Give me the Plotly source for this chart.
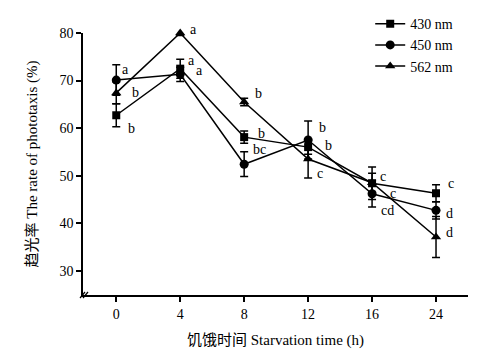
import plotly.graph_objects as go

times = ["0", "4", "8", "12", "16", "24"]
series_names = ["430 nm", "450 nm", "562 nm"]
v430 = [62.7, 72.5, 58.1, 56.0, 48.4, 46.3]
e430 = [2.4, 2.0, 1.3, 1.5, 3.4, 1.8]
v450 = [70.1, 71.3, 52.4, 57.5, 46.2, 42.7]
e450 = [3.2, 1.5, 2.6, 4.0, 2.8, 1.8]
v562 = [67.4, 80.0, 65.5, 53.5, 48.5, 37.1]
e562 = [2.3, 0.5, 0.8, 4.0, 2.0, 4.3]
l430 = ["b", "a", "b", "b", "c", "c"]
l450 = ["a", "a", "bc", "b", "cd", "d"]
l562 = ["b", "a", "b", "c", "c", "d"]
y_ticks = [30, 40, 50, 60, 70, 80]

# pixel offsets of letter labels relative to points (dx right, dy down)
off430 = [(15, 13), (11, -8), (17, -4), (20, -2), (11, -7), (15, -10)]
off450 = [(9, -11), (19, -4), (15, -15), (14, -12), (15, 17), (13, 3)]
off562 = [(19, 0), (13, -4), (14, -8), (12, 14), (21, 11), (13, -4)]

SERIF = "Liberation Serif, Times New Roman, serif"
MIXED = "Liberation Serif, Noto Sans CJK SC, serif"

xpos = list(range(len(times)))

fig = go.Figure()
specs = [
    (series_names[0], v430, e430, "square", 8, l430, off430),
    (series_names[1], v450, e450, "circle", 9, l450, off450),
    (series_names[2], v562, e562, "triangle-up", 9, l562, off562),
]
for name, vals, errs, sym, size, labs, offs in specs:
    fig.add_trace(go.Scatter(
        x=xpos, y=vals, name=name, mode="lines+markers",
        line=dict(color="black", width=1.5),
        marker=dict(symbol=sym, size=size, color="black"),
        error_y=dict(type="data", array=errs, visible=True,
                     color="black", thickness=1.5, width=4),
        cliponaxis=False,
    ))
    for xp, v, lab, (dx, dy) in zip(xpos, vals, labs, offs):
        fig.add_annotation(x=xp, y=v, text=lab, showarrow=False,
                           xshift=dx, yshift=-dy, xanchor="center",
                           yanchor="middle",
                           font=dict(family=SERIF, size=14, color="black"))

# axis break marks
for off in (0, 3):
    fig.add_shape(type="line", xref="paper", yref="paper",
                  xsizemode="pixel", ysizemode="pixel",
                  xanchor=0, yanchor=0,
                  x0=-3 + off, x1=2 + off, y0=-3, y1=3,
                  line=dict(color="black", width=1.2))

# page body has an 8px default margin, so the figure is drawn 8px smaller
fig.update_layout(
    width=479, height=349,
    margin=dict(l=75, r=19, t=25, b=62, autoexpand=False),
    paper_bgcolor="white", plot_bgcolor="white",
    font=dict(family=SERIF, size=14, color="black"),
    showlegend=True,
    legend=dict(x=0.746, y=1.095, xanchor="left", yanchor="top",
                bgcolor="rgba(0,0,0,0)", font=dict(family=SERIF, size=14),
                tracegroupgap=0),
    xaxis=dict(range=[-0.52, 5.5], tickvals=xpos, ticktext=times,
               showline=True, linecolor="black", automargin=False,
               linewidth=1.5, ticks="outside", ticklen=5, tickwidth=1.5,
               tickcolor="black", showgrid=False, zeroline=False,
               tickfont=dict(family=SERIF, size=14),
               title=dict(text="饥饿时间 Starvation time (h)", standoff=14,
                          font=dict(family=MIXED, size=15))),
    yaxis=dict(range=[24.9, 80], showline=True, linecolor="black",
               automargin=False,
               linewidth=1.5, ticks="outside", ticklen=5, tickwidth=1.5,
               tickcolor="black", showgrid=False, zeroline=False,
               tickvals=y_ticks, tickfont=dict(family=SERIF, size=14),
               title=dict(text="趋光率 The rate of phototaxis (%)", standoff=18,
                          font=dict(family=MIXED, size=15))),
)

fig.write_html("out.html")
